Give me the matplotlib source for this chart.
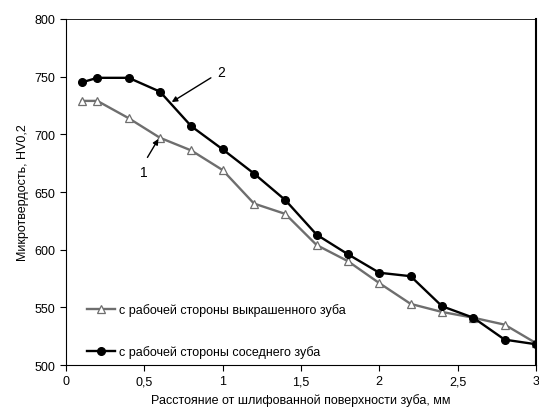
import matplotlib
matplotlib.use("Agg")
import matplotlib.pyplot as plt
import matplotlib.ticker as ticker

plt.rcParams['font.family'] = ['Liberation Sans', 'DejaVu Sans']

# расстояние от поверхности, мм
depth = [0.1, 0.2, 0.4, 0.6, 0.8, 1.0, 1.2, 1.4, 1.6, 1.8, 2.0, 2.2, 2.4, 2.6, 2.8, 3.0]
# выкрашенный зуб (1)
hv_chipped = [729, 729, 714, 697, 686, 669, 640, 631, 604, 590, 571, 553, 546, 541, 535, 519]
# соседний зуб (2)
hv_neighbor = [745, 749, 749, 737, 707, 687, 666, 643, 613, 596, 580, 577, 551, 541, 522, 518]

label1 = 'с рабочей стороны выкрашенного зуба'
label2 = 'с рабочей стороны соседнего зуба'

fig = plt.figure(figsize=(5.39, 4.14), dpi=100)
ax = fig.add_axes([0.1224, 0.1159, 0.8720, 0.8358])

ax.plot(depth, hv_chipped, color='#6e6e6e', linewidth=1.7, marker='^', markersize=5.5,
        markerfacecolor='white', markeredgecolor='#6e6e6e', markeredgewidth=0.9, label=label1)
ax.plot(depth, hv_neighbor, color='black', linewidth=1.7, marker='o', markersize=5.5,
        markerfacecolor='black', label=label2)

ax.set_xlim(0, 3)
ax.set_ylim(500, 800)
ax.xaxis.set_major_locator(ticker.MultipleLocator(0.5))
ax.yaxis.set_major_locator(ticker.MultipleLocator(50))
ax.xaxis.set_major_formatter(ticker.FuncFormatter(lambda v, p: ('%g' % v).replace('.', ',')))
ax.tick_params(direction='out', length=4, width=0.8, labelsize=9)

ax.spines['top'].set_linewidth(0.6)
ax.spines['right'].set_linewidth(1.5)

ax.set_xlabel('Расстояние от шлифованной поверхности зуба, мм', fontsize=9)
ax.set_ylabel('Микротвердость, HV0,2', fontsize=9)

# стрелки-выноски к кривым
arrow = dict(arrowstyle='-|>', color='black', lw=1, shrinkA=0, shrinkB=0, mutation_scale=8)
ax.annotate('', xy=(0.675, 728), xytext=(0.925, 749), arrowprops=arrow)
ax.text(0.99, 754, '2', fontsize=10, ha='center', va='center')
ax.annotate('', xy=(0.59, 696), xytext=(0.52, 680), arrowprops=arrow)
ax.text(0.495, 667, '1', fontsize=10, ha='center', va='center')

ax.legend(loc='lower left', bbox_to_anchor=(0.02, -0.012), frameon=False, fontsize=9,
          handlelength=2.3, handletextpad=0.3, labelspacing=2.3)

fig.savefig('out.png', dpi=100)
